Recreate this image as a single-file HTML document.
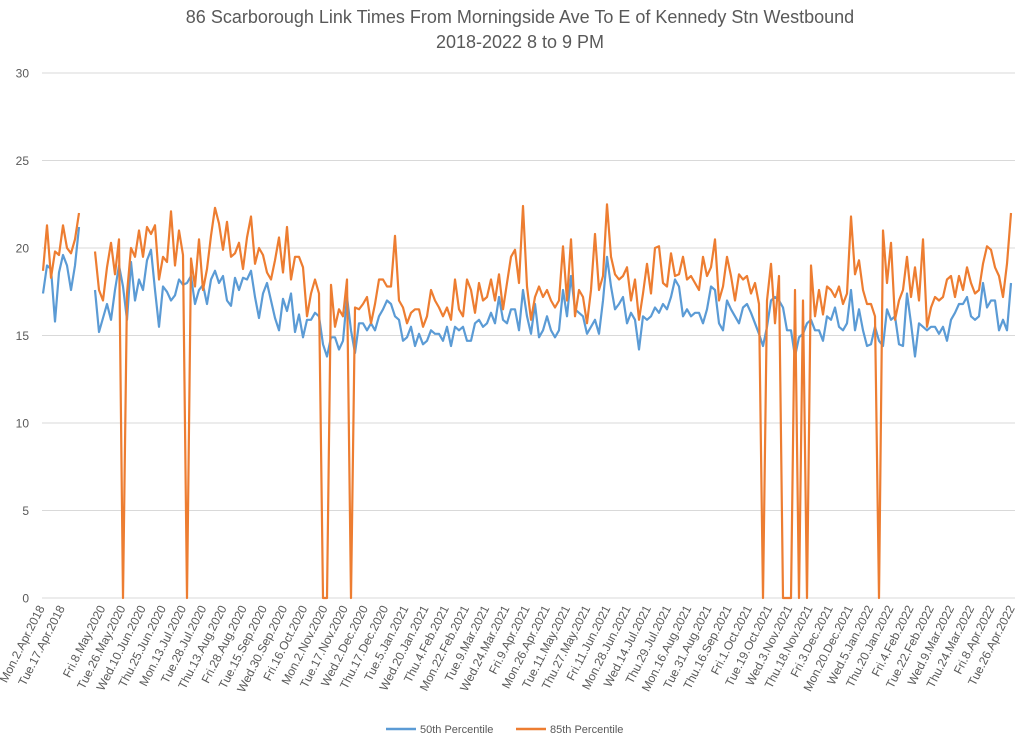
<!DOCTYPE html>
<html><head><meta charset="utf-8"><style>
html,body{margin:0;padding:0;background:#fff;}
svg{display:block;font-family:"Liberation Sans",sans-serif;}
</style></head><body>
<svg id="chart" width="1024" height="739" viewBox="0 0 1024 739">
<text x="520" y="23" text-anchor="middle" font-size="18" fill="#595959">86 Scarborough Link Times From Morningside Ave To E of Kennedy Stn Westbound</text>
<text x="520" y="48" text-anchor="middle" font-size="18" fill="#595959">2018-2022 8 to 9 PM</text>
<g id="grid"></g>
<g id="yticks"></g>
<g id="xticks"></g>
<g id="series"></g>
<g>
<line x1="386" y1="729" x2="416" y2="729" stroke="#5B9BD5" stroke-width="2.5"/>
<text x="420" y="733" font-size="11" fill="#595959">50th Percentile</text>
<line x1="516" y1="729" x2="546" y2="729" stroke="#ED7D31" stroke-width="2.5"/>
<text x="550" y="733" font-size="11" fill="#595959">85th Percentile</text>
</g>
</svg>
<script>
const tickLabels = [0,5,10,15,20,25,30];
const categoryLabels = ["Mon.2.Apr.2018","Tue.17.Apr.2018","","Fri.8.May.2020","Tue.26.May.2020","Wed.10.Jun.2020","Thu.25.Jun.2020","Mon.13.Jul.2020","Tue.28.Jul.2020","Thu.13.Aug.2020","Fri.28.Aug.2020","Tue.15.Sep.2020","Wed.30.Sep.2020","Fri.16.Oct.2020","Mon.2.Nov.2020","Tue.17.Nov.2020","Wed.2.Dec.2020","Thu.17.Dec.2020","Tue.5.Jan.2021","Wed.20.Jan.2021","Thu.4.Feb.2021","Mon.22.Feb.2021","Tue.9.Mar.2021","Wed.24.Mar.2021","Fri.9.Apr.2021","Mon.26.Apr.2021","Tue.11.May.2021","Thu.27.May.2021","Fri.11.Jun.2021","Mon.28.Jun.2021","Wed.14.Jul.2021","Thu.29.Jul.2021","Mon.16.Aug.2021","Tue.31.Aug.2021","Thu.16.Sep.2021","Fri.1.Oct.2021","Tue.19.Oct.2021","Wed.3.Nov.2021","Thu.18.Nov.2021","Fri.3.Dec.2021","Mon.20.Dec.2021","Wed.5.Jan.2022","Thu.20.Jan.2022","Fri.4.Feb.2022","Tue.22.Feb.2022","Wed.9.Mar.2022","Thu.24.Mar.2022","Fri.8.Apr.2022","Tue.26.Apr.2022"];
const p50 = [17.4,19.0,18.8,15.8,18.6,19.6,19.0,17.6,19.0,21.2,null,null,null,
17.6,15.2,16.0,16.8,15.9,17.6,19.0,17.8,15.9,19.2,17.0,18.2,17.6,19.3,19.9,17.6,15.5,17.8,17.5,17.0,17.3,18.2,17.9,18.0,18.4,16.8,17.6,17.9,16.8,18.2,18.7,18.0,18.4,17.0,16.7,18.3,17.6,18.3,18.2,18.7,17.2,16.0,17.4,18.0,17.0,16.0,15.3,17.1,16.4,17.4,15.2,16.2,
14.9,15.9,15.9,16.3,16.1,14.5,13.8,14.9,14.9,14.2,14.7,17.2,15.3,14.0,15.7,15.7,15.3,15.7,15.3,16.1,16.5,17.0,16.8,16.1,15.9,14.7,14.9,15.5,14.4,15.1,14.5,14.7,15.3,15.1,15.1,14.7,15.5,14.4,15.5,15.3,15.5,14.7,14.7,15.7,15.9,15.5,15.7,16.3,15.7,17.2,15.9,15.7,16.5,16.5,15.3,17.6,16.1,15.1,16.8,14.9,15.3,16.1,15.3,
14.9,15.3,17.6,16.1,18.4,16.5,16.3,16.1,15.1,15.5,15.9,15.1,17.0,19.5,17.8,16.5,16.8,17.2,15.7,16.3,15.9,14.2,16.1,15.9,16.1,16.6,16.3,16.8,16.5,17.2,18.2,17.8,16.1,16.5,16.1,16.3,16.3,15.7,16.5,17.8,17.6,15.7,15.3,17.0,16.5,16.1,15.7,16.6,16.8,16.3,15.7,15.1,14.4,15.5,17.0,17.2,17.0,16.6,
15.3,15.3,13.8,14.9,15.1,15.7,15.9,15.3,15.3,14.7,16.1,15.9,16.6,15.5,15.3,15.7,17.6,15.3,16.5,15.3,14.4,14.5,15.5,14.7,14.4,16.5,15.9,16.1,14.5,14.4,17.4,15.7,13.8,15.7,15.5,15.3,15.5,15.5,15.1,15.5,14.7,15.9,16.3,16.8,16.8,17.2,16.1,15.9,16.1,18.0,16.6,17.0,17.0,15.3,15.9,15.3,18.0];
const p85 = [18.7,21.3,18.3,19.8,19.6,21.3,20.0,19.7,20.5,22.0,null,null,null,
19.8,17.6,17.0,18.9,20.3,18.5,20.5,0,17.4,20.0,19.5,21.0,19.5,21.2,20.8,21.3,18.2,19.5,19.2,22.1,19.0,21.0,19.6,0,19.4,17.8,20.5,17.6,18.8,20.7,22.3,21.4,19.9,21.5,19.5,19.7,20.3,18.8,20.6,21.8,19.1,20.0,19.6,18.6,18.2,19.3,20.6,18.6,21.2,18.2,19.5,19.5,
18.9,16.1,17.4,18.2,17.4,0,0,17.9,15.5,16.5,16.1,18.2,0,16.6,16.5,16.8,17.2,15.7,16.8,18.2,18.2,17.8,17.8,20.7,17.0,16.6,15.7,16.3,16.5,16.5,15.5,16.1,17.6,17.0,16.6,16.1,16.6,15.9,18.2,16.5,16.1,18.2,17.6,16.3,18.0,17.0,17.2,18.2,17.0,18.5,16.5,18.0,19.5,19.9,18.0,22.4,17.8,15.9,17.2,17.8,17.2,17.6,17.0,
16.6,17.0,20.1,17.0,20.5,16.1,17.6,17.2,15.7,17.6,20.8,17.6,18.4,22.5,19.5,18.5,18.2,18.4,18.9,17.0,18.2,15.9,17.4,19.1,17.4,20.0,20.1,18.0,17.8,19.7,18.4,18.5,19.5,18.2,18.4,18.0,17.6,19.5,18.4,18.9,20.5,17.0,17.8,19.5,18.4,17.0,18.5,18.2,18.4,17.4,18.0,16.8,0,17.0,19.1,15.7,18.4,0,
0,0,17.6,0,17.0,0,19.0,16.1,17.6,16.2,17.8,17.6,17.2,17.8,16.8,17.4,21.8,18.5,19.3,17.6,16.8,16.8,16.1,0,21.0,18.0,20.3,15.9,17.0,17.6,19.5,17.2,18.9,17.0,20.5,15.5,16.6,17.2,17.0,17.2,18.2,18.4,17.2,18.4,17.6,18.9,18.0,17.4,17.6,19.1,20.1,19.9,18.9,18.4,17.2,19.1,22.0];

const X0 = 43, X1 = 1011, Y0 = 598, YTOP = 73, YMAX = 30;
const N = p50.length;
function xPos(i){ return X0 + (X1 - X0) * i / (N - 1); }
function yPos(v){ return Y0 - (Y0 - YTOP) * v / YMAX; }
function labelX(k){ return 45 + (1015 - 45) * k / (categoryLabels.length - 1); }
const NS = "http://www.w3.org/2000/svg";
const grid = document.getElementById('grid');
const yt = document.getElementById('yticks');
tickLabels.forEach(t => {
  const l = document.createElementNS(NS,'line');
  l.setAttribute('x1',42); l.setAttribute('x2',1015);
  l.setAttribute('y1',yPos(t)); l.setAttribute('y2',yPos(t));
  l.setAttribute('stroke','#d9d9d9'); l.setAttribute('stroke-width','1');
  
  
  grid.appendChild(l);
  const tx = document.createElementNS(NS,'text');
  tx.setAttribute('x',29); tx.setAttribute('y',yPos(t)+4.5);
  tx.setAttribute('text-anchor','end'); tx.setAttribute('font-size','12'); tx.setAttribute('fill','#595959');
  tx.textContent = t;
  
  
  yt.appendChild(tx);
});
const xt = document.getElementById('xticks');
categoryLabels.forEach((c,k) => {
  if(!c) return;
  const tx = document.createElementNS(NS,'text');
  const x = labelX(k), y = 608;
  tx.setAttribute('x',x); tx.setAttribute('y',y);
  tx.setAttribute('text-anchor','end'); tx.setAttribute('font-size','12'); tx.setAttribute('fill','#595959');
  tx.setAttribute('transform','rotate(-63 '+x+' '+y+')');
  tx.textContent = c;
  
  
  xt.appendChild(tx);
});
function pathFor(arr){
  let d = '', pen = false;
  arr.forEach((v,i) => {
    if(v === null){ pen = false; return; }
    d += (pen ? 'L' : 'M') + xPos(i).toFixed(1) + ' ' + yPos(v).toFixed(1);
    pen = true;
  });
  return d;
}
const series = document.getElementById('series');
const pb = document.createElementNS(NS,'path');
pb.setAttribute('d', pathFor(p50));
pb.setAttribute('fill','none'); pb.setAttribute('stroke','#5B9BD5'); pb.setAttribute('stroke-width','2.2'); pb.setAttribute('stroke-linejoin','round');


series.appendChild(pb);
const po = document.createElementNS(NS,'path');
po.setAttribute('d', pathFor(p85));
po.setAttribute('fill','none'); po.setAttribute('stroke','#ED7D31'); po.setAttribute('stroke-width','2.2'); po.setAttribute('stroke-linejoin','round');


series.appendChild(po);
</script>
</body></html>
